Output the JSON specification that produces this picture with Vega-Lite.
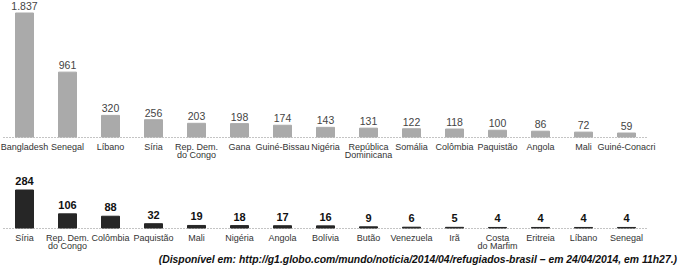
{
  "$schema": "https://vega.github.io/schema/vega-lite/v6.json",
  "padding": {"left": 0, "top": 2, "right": 0, "bottom": 0},
  "background": "white",
  "config": {
    "view": {"stroke": null},
    "font": "Liberation Sans",
    "locale": {"number": {"decimal": ",", "thousands": ".", "grouping": [3], "currency": ["", ""]}},
    "concat": {"spacing": 16}
  },
  "datasets": {
    "pedidos": [
      {"pais": "Bangladesh", "valor": 1837},
      {"pais": "Senegal", "valor": 961},
      {"pais": "Líbano", "valor": 320},
      {"pais": "Síria", "valor": 256},
      {"pais": "Rep. Dem.\ndo Congo", "valor": 203},
      {"pais": "Gana", "valor": 198},
      {"pais": "Guiné-Bissau", "valor": 174},
      {"pais": "Nigéria", "valor": 143},
      {"pais": "República\nDominicana", "valor": 131},
      {"pais": "Somália", "valor": 122},
      {"pais": "Colômbia", "valor": 118},
      {"pais": "Paquistão", "valor": 100},
      {"pais": "Angola", "valor": 86},
      {"pais": "Mali", "valor": 72},
      {"pais": "Guiné-Conacri", "valor": 59}
    ],
    "concedidos": [
      {"pais": "Síria", "valor": 284},
      {"pais": "Rep. Dem.\ndo Congo", "valor": 106},
      {"pais": "Colômbia", "valor": 88},
      {"pais": "Paquistão", "valor": 32},
      {"pais": "Mali", "valor": 19},
      {"pais": "Nigéria", "valor": 18},
      {"pais": "Angola", "valor": 17},
      {"pais": "Bolívia", "valor": 16},
      {"pais": "Butão", "valor": 9},
      {"pais": "Venezuela", "valor": 6},
      {"pais": "Irã", "valor": 5},
      {"pais": "Costa\ndo Marfim", "valor": 4},
      {"pais": "Eritreia", "valor": 4},
      {"pais": "Líbano", "valor": 4},
      {"pais": "Senegal", "valor": 4}
    ]
  },
  "title": {
    "text": "(Disponível em: http://g1.globo.com/mundo/noticia/2014/04/refugiados-brasil – em 24/04/2014, em 11h27.)",
    "orient": "bottom",
    "anchor": "end",
    "fontSize": 10.4,
    "fontStyle": "italic",
    "fontWeight": "bold",
    "color": "#111",
    "dx": 22,
    "offset": 4
  },
  "vconcat": [
    {
      "width": 645,
      "height": 124,
      "data": {"name": "pedidos"},
      "encoding": {
        "x": {
          "field": "pais", "type": "nominal", "sort": null,
          "scale": {"paddingInner": 0, "paddingOuter": 0},
          "axis": {"title": null, "labelAngle": 0, "ticks": false, "domainDash": [1, 2], "domainColor": "#888",
                   "labelExpr": "split(datum.value, '\\n')", "labelFontSize": 9, "labelColor": "#333",
                   "labelPadding": 5, "labelLineHeight": 8.5, "labelOverlap": false}
        },
        "y": {"field": "valor", "type": "quantitative", "scale": {"domain": [0, 1837], "nice": false}, "axis": null}
      },
      "layer": [
        {"mark": {"type": "bar", "size": 18, "color": "#aaaaaa", "stroke": "#aaaaaa", "strokeWidth": 1}},
        {"mark": {"type": "text", "baseline": "bottom", "dy": -1, "fontSize": 10.5, "color": "#444"},
         "encoding": {"text": {"field": "valor", "type": "quantitative", "format": ",d"}}}
      ]
    },
    {
      "width": 645,
      "height": 38,
      "data": {"name": "concedidos"},
      "encoding": {
        "x": {
          "field": "pais", "type": "nominal", "sort": null,
          "scale": {"paddingInner": 0, "paddingOuter": 0},
          "axis": {"title": null, "labelAngle": 0, "ticks": false, "domainDash": [1, 2], "domainColor": "#888",
                   "labelExpr": "split(datum.value, '\\n')", "labelFontSize": 9, "labelColor": "#333",
                   "labelPadding": 5, "labelLineHeight": 8.5, "labelOverlap": false}
        },
        "y": {"field": "valor", "type": "quantitative", "scale": {"domain": [0, 284], "nice": false}, "axis": null}
      },
      "layer": [
        {"mark": {"type": "bar", "size": 18, "color": "#262626", "stroke": "#262626", "strokeWidth": 1}},
        {"mark": {"type": "text", "baseline": "bottom", "dy": -3, "fontSize": 11, "fontWeight": "bold", "color": "#111"},
         "encoding": {"text": {"field": "valor", "type": "quantitative", "format": ",d"}}}
      ]
    }
  ]
}
